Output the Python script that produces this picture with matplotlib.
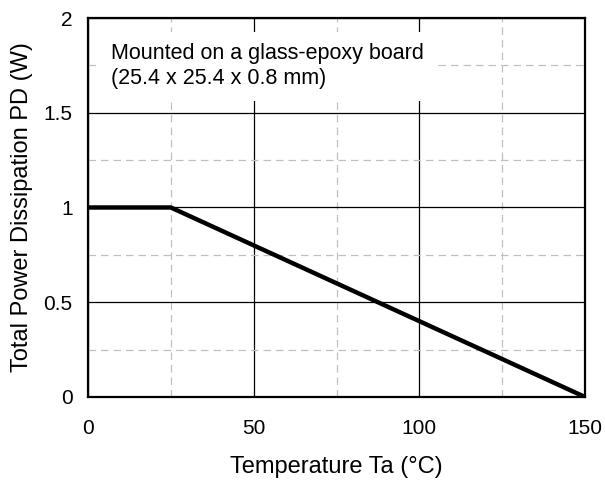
import numpy as np
import matplotlib
matplotlib.use('Agg')
import matplotlib.pyplot as plt
import matplotlib.ticker as mticker

plt.rcParams['font.family'] = ['Liberation Sans', 'DejaVu Sans']

# derating curve
temp = [0, 25, 150]
power = [1.0, 1.0, 0.0]

x_ticks = [0, 50, 100, 150]
y_ticks = [0, 0.5, 1, 1.5, 2]
y_labels = ['0', '0.5', '1', '1.5', '2']

fig = plt.figure(figsize=(6.05, 4.84), dpi=100)
ax = fig.add_axes([0.1455, 0.1798, 0.8215, 0.783])

ax.set_xlim(0, 150)
ax.set_ylim(0, 2)
ax.set_xticks(x_ticks)
ax.set_yticks(y_ticks)
ax.set_yticklabels(y_labels)
ax.xaxis.set_minor_locator(mticker.MultipleLocator(25))
ax.yaxis.set_minor_locator(mticker.MultipleLocator(0.25))

ax.grid(which='major', color='black', linewidth=0.9, linestyle='-')
ax.grid(which='minor', color='#c0c0c0', linewidth=0.9, linestyle=(0, (6, 4)))
ax.set_axisbelow(True)

ax.tick_params(which='both', length=0, labelsize=15)
ax.tick_params(axis='x', pad=16)
ax.tick_params(axis='y', pad=11)
for s in ax.spines.values():
    s.set_linewidth(1.6)
    s.set_color('black')

ax.plot(temp, power, color='black', linewidth=3.2, solid_capstyle='butt', zorder=3)

ax.text(23/497*150, 1.745, 'Mounted on a glass-epoxy board\n(25.4 x 25.4 x 0.8 mm)',
        fontsize=15.5, va='center', ha='left', linespacing=1.25,
        bbox=dict(facecolor='white', edgecolor='none', pad=8), zorder=4)

ax.set_xlabel('Temperature Ta (\u00b0C)', fontsize=17, labelpad=13)
ax.set_ylabel('Total Power Dissipation PD (W)', fontsize=17, labelpad=8)

fig.savefig('out.png', dpi=100)
